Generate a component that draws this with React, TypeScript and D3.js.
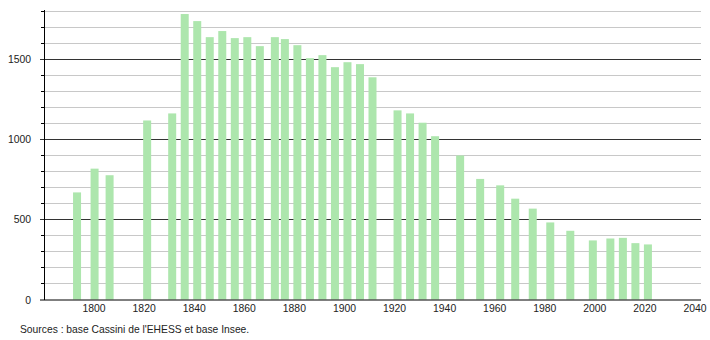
import React from "react";
import * as d3 from "d3";

const years = [1793, 1800, 1806, 1821, 1831, 1836, 1841, 1846, 1851, 1856, 1861, 1866, 1872, 1876, 1881, 1886, 1891, 1896, 1901, 1906, 1911, 1921, 1926, 1931, 1936, 1946, 1954, 1962, 1968, 1975, 1982, 1990, 1999, 2006, 2011, 2016, 2021];
const population = [667, 815, 774, 1115, 1159, 1778, 1734, 1634, 1672, 1628, 1634, 1578, 1634, 1622, 1584, 1503, 1522, 1447, 1478, 1466, 1384, 1178, 1159, 1101, 1017, 897, 751, 711, 628, 566, 480, 428, 368, 380, 384, 351, 343];
const xTicks = [1800, 1820, 1840, 1860, 1880, 1900, 1920, 1940, 1960, 1980, 2000, 2020, 2040];
const yMajor = [0, 500, 1000, 1500];
const yMinor = [100, 200, 300, 400, 600, 700, 800, 900, 1100, 1200, 1300, 1400, 1600, 1700, 1800];
const source = "Sources : base Cassini de l'EHESS et base Insee.";

export default function App() {
  const W = 710, H = 340;
  const left = 44, right = 701, top = 10.5, bottom = 299.5;
  const x = d3.scaleLinear().domain([1780, 2042.4]).range([left, right]);
  const y = d3.scaleLinear().domain([0, 1800]).range([bottom, top]);
  const barW = 8;
  const font = "'Liberation Sans', Arial, sans-serif";
  return (
    <svg width={W} height={H} style={{ position: "absolute", left: 0, top: 0, background: "#fff" }}>
      {yMinor.map((v) => (
        <g key={"m" + v}>
          <line x1={left} x2={right} y1={Math.round(y(v)) + 0.5} y2={Math.round(y(v)) + 0.5} stroke="#c8c8c8" strokeWidth={1} />
          <line x1={left - 3} x2={left} y1={Math.round(y(v)) + 0.5} y2={Math.round(y(v)) + 0.5} stroke="#000" strokeWidth={1} />
        </g>
      ))}
      {yMajor.slice(1).map((v) => (
        <line key={"M" + v} x1={left - 4} x2={right} y1={Math.round(y(v)) + 0.5} y2={Math.round(y(v)) + 0.5} stroke="#333" strokeWidth={1} />
      ))}
      {years.map((yr, i) => (
        <rect key={yr} x={x(yr) + 0.5 - barW / 2} y={y(population[i])} width={barW} height={bottom - y(population[i])} fill="#ade6ad" />
      ))}
      <line x1={left - 4} x2={right} y1={bottom + 0.5} y2={bottom + 0.5} stroke="#000" strokeWidth={1} />
      <line x1={left + 0.5} x2={left + 0.5} y1={top - 0.5} y2={bottom + 0.5} stroke="#000" strokeWidth={1} />
      {yMajor.map((v) => (
        <text key={"t" + v} x={left - 13} y={y(v) + 4} textAnchor="end" fontFamily={font} fontSize={10.4} fill="#222">{v}</text>
      ))}
      {xTicks.map((t) => (
        <text key={"x" + t} x={x(t)} y={312} textAnchor="middle" fontFamily={font} fontSize={10.4} fill="#222">{t}</text>
      ))}
      <text x={20} y={333} fontFamily={font} fontSize={10.3} fill="#222">{source}</text>
    </svg>
  );
}
